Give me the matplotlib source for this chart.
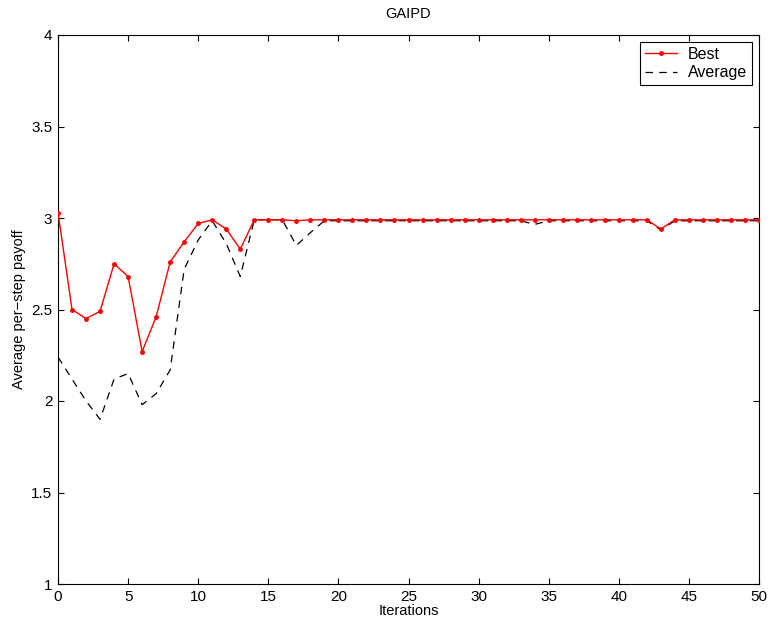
import matplotlib
matplotlib.use("Agg")
import matplotlib.pyplot as plt
import numpy as np

plt.rcParams['font.family'] = ['Liberation Sans', 'DejaVu Sans']

iterations = list(range(51))
best = [3.03, 2.50, 2.45, 2.49, 2.75, 2.68, 2.27, 2.46, 2.76, 2.87,
        2.97, 2.99, 2.94, 2.83, 2.99, 2.99, 2.99, 2.985, 2.99, 2.99,
        2.99, 2.99, 2.99, 2.99, 2.99, 2.99, 2.99, 2.99, 2.99, 2.99,
        2.99, 2.99, 2.99, 2.99, 2.99, 2.99, 2.99, 2.99, 2.99, 2.99,
        2.99, 2.99, 2.99, 2.94, 2.99, 2.99, 2.99, 2.99, 2.99, 2.99,
        2.99]
average = [2.24, 2.12, 2.00, 1.90, 2.12, 2.15, 1.98, 2.04, 2.17, 2.72,
           2.88, 2.985, 2.86, 2.68, 2.99, 2.99, 2.99, 2.85, 2.92, 2.985,
           2.985, 2.985, 2.985, 2.985, 2.985, 2.985, 2.985, 2.985, 2.985, 2.985,
           2.985, 2.985, 2.985, 2.985, 2.965, 2.985, 2.985, 2.985, 2.985, 2.985,
           2.985, 2.985, 2.985, 2.935, 2.985, 2.985, 2.985, 2.985, 2.985, 2.985,
           2.985]
xticks = [0, 5, 10, 15, 20, 25, 30, 35, 40, 45, 50]
yticks = [1, 1.5, 2, 2.5, 3, 3.5, 4]
ytick_labels = ['1', '1.5', '2', '2.5', '3', '3.5', '4']

fig = plt.figure(figsize=(7.71, 6.31), dpi=100)
ax = fig.add_axes([58/771, 1-584/631, (759-58)/771, (584-35)/631])

ax.plot(iterations, average, color='black', linestyle=(0, (6, 5)), linewidth=0.9, label='Average', zorder=2)
ax.plot(iterations, best, color='red', marker='.', markersize=5, linewidth=1.0, label='Best', zorder=3)

ax.set_xlim(0, 50)
ax.set_ylim(1, 4)
ax.set_xticks(xticks)
ax.set_yticks(yticks)
ax.set_yticklabels(ytick_labels)
ax.tick_params(direction='in', top=True, right=True, length=4, width=0.8, labelsize=11, pad=4)
for s in ax.spines.values():
    s.set_linewidth(0.8)

ax.set_title('GAIPD', fontsize=10.5, pad=12)
ax.set_xlabel('Iterations', fontsize=10.5, labelpad=0)
ax.set_ylabel('Average per\u2212step payoff', fontsize=10.5, labelpad=4)

h, l = ax.get_legend_handles_labels()
leg = ax.legend([h[1], h[0]], [l[1], l[0]], loc='upper right', fontsize=11.5,
                fancybox=False, edgecolor='black', framealpha=1,
                handlelength=2.0, handletextpad=0.7, borderaxespad=0.45,
                labelspacing=0.2, borderpad=0.3)
leg.get_frame().set_linewidth(0.8)

fig.savefig('out.png', dpi=100)
